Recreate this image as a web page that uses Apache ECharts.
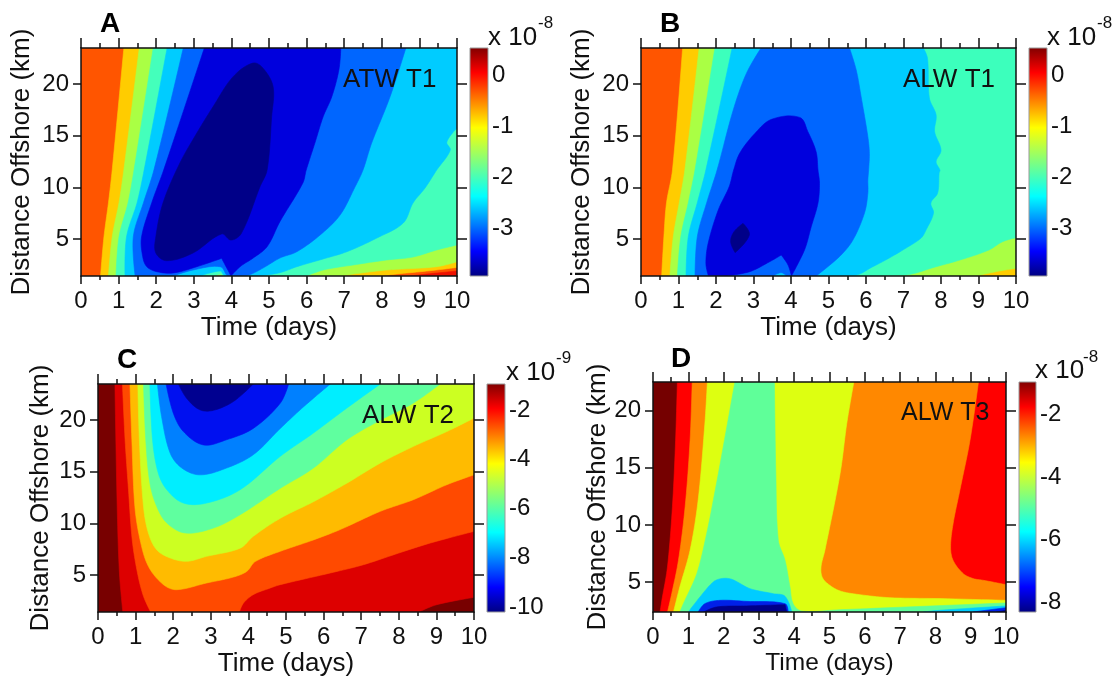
<!DOCTYPE html>
<html><head><meta charset="utf-8">
<style>html,body{margin:0;padding:0;background:#fff}#c{width:1120px;height:682px}</style>
<script src="https://cdn.jsdelivr.net/npm/echarts@6/dist/echarts.min.js"></script>
</head><body><div id="c"></div>
<script>
const timeTicks = [0,1,2,3,4,5,6,7,8,9,10];
const kmTicks = [5,10,15,20];

const A_colors = ['#FF5500','#FFCC00','#AAFF44','#44FFBB','#00CCFF','#0066FF','#0000DD','#000088','#EE1100'];
const A_contours = [
 [[0,1.42],[0,23.5],[10,23.5],[10,1.42]],
 [[1.14,23.5],[0.83,11.7],[0.73,8.5],[0.61,5.2],[0.52,1.42],[7.95,1.42],[8.4,1.61],[9.28,1.93],[10,2.25],[10,23.5]],
 [[1.55,23.5],[1.14,11.7],[1.01,8.5],[0.83,5.2],[0.73,1.42],[6.89,1.42],[7.24,1.61],[8.13,2.0],[9.46,2.32],[10,2.8],[10,23.5]],
 [[1.92,23.5],[1.41,11.7],[1.25,8.5],[1.01,5.2],[0.93,1.42],[3.55,1.42],[3.7,1.6],[3.78,1.42],[6.0,1.42],[6.44,2.0],[7.24,2.49],[8.13,2.97],[8.83,3.26],[9.46,3.94],[10,4.42],[10,23.5]],
 [[2.29,23.5],[1.68,11.7],[1.49,8.5],[1.21,5.2],[1.17,1.42],[3.17,1.42],[3.7,1.9],[3.8,1.49],[3.85,1.42],[4.76,1.42],[5.29,1.74],[5.74,2.32],[6.44,3.07],[7.07,3.77],[7.87,5.1],[8.57,6.55],[8.83,8.49],[9.15,9.94],[9.46,11.68],[9.82,13.6],[9.73,14.4],[10,15.75],[10,23.5]],
 [[2.72,23.5],[1.94,11.7],[1.66,8.5],[1.39,5.2],[1.44,1.42],[2.45,1.42],[2.98,2.0],[3.7,2.32],[3.88,1.49],[3.95,1.42],[4.44,1.5],[4.84,2.19],[5.29,3.16],[5.74,3.77],[6.36,5.39],[6.89,7.32],[7.29,10.06],[7.5,11.68],[7.73,14.29],[8.22,18.78],[8.64,23.5]],
 [[3.28,23.5],[2.2,11.7],[1.88,8.5],[1.61,5.2],[1.64,3.3],[1.75,2.32],[2.01,1.84],[2.45,1.71],[3.08,2.32],[3.74,3.13],[3.88,2.17],[3.99,1.42],[4.23,2.32],[4.58,3.16],[4.95,4.26],[5.29,6.68],[5.9,10.42],[5.99,11.68],[6.22,14.29],[6.44,16.84],[6.67,18.78],[6.86,21.4],[6.91,23.5]],
 [[4.57,22.04],[4.04,20.7],[3.51,17.8],[3.08,15.26],[2.63,12.36],[2.18,8.49],[1.99,5.22],[1.99,3.65],[2.28,2.9],[2.98,3.65],[3.74,5.49],[3.99,4.9],[4.27,5.58],[4.76,10.06],[4.95,11.68],[5.07,16.84],[5.11,19.74],[4.84,21.55]],
 [[8.75,1.42],[9.2,1.61],[10,1.9],[10,1.42]]
];

const B_colors = ['#FF5500','#FFCC00','#AAFF44','#3CFFBC','#00CCFF','#0066FF','#0000DD','#000088'];
const B_contours = [
 [[0,1.42],[0,23.5],[10,23.5],[10,1.42]],
 [[1.11,23.5],[0.84,11.7],[0.68,8.5],[0.61,5.2],[0.55,1.42],[10,1.42],[10,23.5]],
 [[1.55,23.5],[1.17,11.7],[1.02,8.5],[0.86,5.2],[0.77,1.42],[8.93,1.42],[9.55,1.9],[10,2.17],[10,23.5]],
 [[1.97,23.5],[1.44,11.7],[1.26,8.5],[1.06,5.2],[0.97,1.42],[6.98,1.49],[7.87,2.32],[8.57,3.04],[9.28,3.94],[9.64,4.74],[10,5.13],[10,23.5]],
 [[2.43,23.5],[1.73,11.7],[1.5,8.5],[1.26,5.2],[1.2,1.42],[5.69,1.49],[6.18,2.32],[6.62,3.16],[7.07,4.13],[7.47,5.1],[7.6,5.87],[7.8,7.52],[7.73,8.49],[7.91,9.45],[7.95,11.4],[7.97,11.68],[7.87,12.5],[8.0,13.6],[7.83,15.4],[7.87,17],[7.69,18.65],[7.64,22.5],[7.53,23.5]],
 [[3.2,23.5],[2.81,21.04],[2.46,17.5],[2.03,11.7],[1.75,8.5],[1.5,5.2],[1.44,1.42],[3.52,1.42],[3.74,1.74],[3.88,1.42],[4.67,1.42],[5.29,3.29],[5.65,4.9],[5.96,7.52],[6.05,9.45],[6.05,10.7],[6.07,11.68],[6.09,13.3],[6.05,14.9],[5.87,18.78],[5.74,21.36],[5.56,23.5]],
 [[3.48,16.59],[3.03,15.2],[2.63,13.3],[2.47,11.68],[2.35,10.06],[2.06,7.81],[1.79,4.58],[1.73,2.65],[1.79,1.5],[2.28,1.42],[2.9,1.84],[3.43,2.8],[3.74,3.45],[3.92,2.49],[4.01,1.42],[4.36,3.94],[4.54,6.2],[4.72,8.49],[4.76,10.4],[4.72,11.68],[4.67,13.45],[4.45,15.4],[4.23,16.78]],
 [[2.72,6.52],[2.89,5.39],[2.51,3.68],[2.39,4.74],[2.48,5.71]]
];

const C_colors = ['#780000','#DD0000','#FF4A00','#FFBB00','#CCFF22','#5FFF9F','#00EEFF','#0080FF','#0010F0','#000090'];
const C_contours = [
 [[0,1.42],[0,23.5],[10,23.5],[10,1.42]],
 [[0.45,23.5],[0.51,11.65],[0.57,5.2],[0.66,1.42],[8.53,1.42],[9.01,2.13],[10,2.84],[10,23.5]],
 [[0.65,23.5],[0.72,18.1],[0.81,13.3],[0.91,8.4],[1.05,5.2],[1.21,2.94],[1.4,1.42],[3.76,1.42],[3.87,2.29],[4.13,3.1],[4.58,3.74],[4.85,4.07],[6.18,5.2],[7.06,6.0],[8,7.13],[8.84,8.1],[10,9.23],[10,23.5]],
 [[0.85,23.5],[0.9,18.1],[0.98,11.65],[1.12,8.4],[1.34,5.84],[1.74,4.07],[2.09,3.58],[2.89,4.23],[3.6,4.8],[3.96,5.36],[4.18,6.3],[4.85,7.3],[5.73,8.4],[6.44,9.4],[7.51,11.17],[8.39,12.3],[9.28,13.75],[10,14.7],[10,23.5]],
 [[1.06,23.5],[1.1,18.1],[1.21,11.65],[1.34,9.07],[1.56,7.45],[1.92,6.65],[2.36,6.33],[2.89,6.81],[3.78,7.6],[4.13,8.75],[4.85,10.5],[5.73,12.1],[6.62,13.9],[7.51,15.85],[8.39,17.46],[9.28,18.9],[10,20.2],[10,23.5]],
 [[1.21,23.5],[1.27,18.1],[1.38,13.9],[1.56,11.65],[1.83,10.04],[2.32,9.07],[3.07,9.55],[3.78,10.84],[4.85,13.4],[5.73,15.36],[6.62,18.1],[7.51,20],[8.39,21.66],[9.1,23.5]],
 [[1.38,23.5],[1.45,18.1],[1.6,14.9],[1.83,13.26],[2.27,11.97],[2.89,11.97],[3.78,13.26],[4.85,16.5],[5.73,18.75],[6.62,21.17],[7.51,23.5]],
 [[1.58,23.5],[1.69,20.36],[1.92,16.8],[2.23,15.36],[2.71,14.7],[3.42,15.36],[4.13,16.65],[4.85,19.2],[5.47,21.3],[6.18,23.5]],
 [[1.81,23.5],[2.0,20.7],[2.27,18.9],[2.8,17.6],[3.42,18.1],[4.13,19.2],[4.85,21.65],[5.07,23.5]],
 [[2.14,23.5],[2.36,22.1],[2.71,21],[3.07,20.95],[3.6,21.8],[4.13,23.5]]
];

const D_colors = ['#750000','#FF0000','#FF8800','#DDFF11','#5FFF99','#00CCFF','#0020E8','#000088','#00CCFF','#0020E8','#000088'];
const D_contours = [
 [[0,2.4],[0,22.5],[10,22.5],[10,2.4]],
 [[0.69,22.5],[0.64,17.4],[0.55,11.6],[0.41,6.34],[0.25,3.42],[0.2,2.4],[10,2.4],[10,22.5]],
 [[1.11,22.5],[1.05,17.4],[0.91,11.6],[0.72,6.9],[0.53,4],[0.41,2.4],[10,2.4],[10,4.79],[9.36,5.17],[9.07,5.32],[8.79,5.75],[8.5,6.92],[8.43,8.09],[8.5,10.1],[8.69,13],[8.98,17.4],[9.22,22.5]],
 [[1.54,22.5],[1.47,18.9],[1.28,12.2],[1.05,7.8],[0.76,4.6],[0.58,2.4],[10,2.4],[10,3.42],[8.13,3.57],[6.71,3.65],[5.77,3.95],[5.3,4.24],[5.01,4.73],[4.8,5.4],[4.76,6.34],[4.87,7.8],[5.3,14.5],[5.49,18.9],[5.69,22.5]],
 [[2.32,22.5],[1.99,16.84],[1.76,13],[1.52,9.25],[1.24,5.75],[0.86,3.13],[0.76,2.4],[10,2.4],[10,3.19],[7.19,2.84],[5.3,2.6],[4.21,2.49],[3.97,3.13],[3.88,4.59],[3.74,6.92],[3.55,8.67],[3.48,14.5],[3.44,22.5]],
 [[1.0,2.4],[1.33,3.71],[1.71,5.03],[1.94,5.32],[2.23,5.26],[2.75,4.44],[3.41,4],[3.74,3.77],[3.93,2.4]],
 [[1.28,2.4],[1.47,3.13],[1.9,3.42],[2.65,3.33],[3.74,3.13],[3.83,2.4]],
 [[1.43,2.4],[1.8,2.84],[2.65,2.93],[3.74,3.04],[3.79,2.4]],
 [[7.66,2.4],[8.13,2.55],[10,2.93],[10,2.4]],
 [[9.07,2.4],[10,2.78],[10,2.4]],
 [[9.73,2.4],[10,2.55],[10,2.4]]
];

const jetStops = [[0,'#000080'],[0.11,'#0000FF'],[0.35,'#00FFFF'],[0.5,'#7FFF7F'],[0.65,'#FFFF00'],[0.89,'#FF0000'],[1,'#800000']];

const panels = [
 {contours:A_contours,colors:A_colors,left:81,top:48,width:376,height:228,yMin:1.42,yMax:23.5,nameGapY:46,
  cb:{left:470,width:18,top:48,height:228,min:-3.92,max:0.53,ticks:[0,-1,-2,-3]}},
 {contours:B_contours,colors:B_colors,left:641,top:48,width:375,height:228,yMin:1.42,yMax:23.5,nameGapY:46,
  cb:{left:1029,width:18,top:48,height:228,min:-3.92,max:0.53,ticks:[0,-1,-2,-3]}},
 {contours:C_contours,colors:C_colors,left:98,top:384,width:376,height:228,yMin:1.42,yMax:23.5,nameGapY:44,
  cb:{left:487,width:18,top:384,height:228,min:-10.2,max:-0.95,ticks:[-2,-4,-6,-8,-10]}},
 {contours:D_contours,colors:D_colors,left:653,top:382,width:353,height:230,yMin:2.4,yMax:22.5,nameGapY:42,xName:24.5,
  cb:{left:1019,width:17,top:382,height:230,min:-8.3,max:-0.98,ticks:[-2,-4,-6,-8]}}
];

const FONT = '"Liberation Sans", Arial, sans-serif';
const INK = '#111';
const lineStyle = {color:'#111',width:1.5};
const grid=[], xAxis=[], yAxis=[], series=[];

/* Draws a contour as a smooth curve through its vertices; vertices on the frame and sharp turns stay corners. */
function curveThrough(pts, onFrame){
  const n = pts.length, out = [];
  const corner = pts.map(function(p,i){
    if (onFrame[i]) return true;
    const a = pts[(i-1+n)%n], b = pts[(i+1)%n];
    const ux=p[0]-a[0], uy=p[1]-a[1], vx=b[0]-p[0], vy=b[1]-p[1];
    const c = (ux*vx+uy*vy)/(Math.hypot(ux,uy)*Math.hypot(vx,vy)||1);
    return c < 0.3;
  });
  const dir = pts.map(function(p,i){
    if (corner[i]) return [0,0];
    const a = pts[(i-1+n)%n], b = pts[(i+1)%n];
    const l = Math.hypot(b[0]-a[0],b[1]-a[1])||1;
    return [(b[0]-a[0])/l,(b[1]-a[1])/l];
  });
  for (let i=0;i<n;i++){
    const j=(i+1)%n, p=pts[i], q=pts[j];
    const len=Math.hypot(q[0]-p[0],q[1]-p[1]);
    out.push(p);
    if (corner[i]&&corner[j]) continue;
    const c1=[p[0]+dir[i][0]*len/3,p[1]+dir[i][1]*len/3], c2=[q[0]-dir[j][0]*len/3,q[1]-dir[j][1]*len/3];
    for (let k=1;k<10;k++){
      const t=k/10,m=1-t;
      out.push([m*m*m*p[0]+3*m*m*t*c1[0]+3*m*t*t*c2[0]+t*t*t*q[0],
                m*m*m*p[1]+3*m*m*t*c1[1]+3*m*t*t*c2[1]+t*t*t*q[1]]);
    }
  }
  return out;
}

panels.forEach(function(p){
  const g = grid.length;
  grid.push({left:p.left,top:p.top,width:p.width,height:p.height});
  const xi = xAxis.length, yi = yAxis.length;
  xAxis.push({gridIndex:g,type:'value',position:'bottom',min:0,max:10,interval:1,z:10,
    name:'Time (days)',nameLocation:'middle',nameGap:39,nameTextStyle:{fontFamily:FONT,fontSize:p.xName||26,color:INK},
    axisLine:{show:true,onZero:false,lineStyle},axisTick:{show:true,length:8,lineStyle},
    minorTick:{show:true,splitNumber:2,length:4,lineStyle},
    axisLabel:{show:true,margin:13,fontFamily:FONT,fontSize:24,color:INK,formatter:function(v){return String(v);}},splitLine:{show:false}});
  xAxis.push({gridIndex:g,type:'value',position:'top',min:0,max:10,interval:1,z:10,
    axisLine:{show:true,onZero:false,lineStyle},axisTick:{show:true,length:10,lineStyle},
    minorTick:{show:true,splitNumber:2,length:5,lineStyle},axisLabel:{show:false},splitLine:{show:false}});
  yAxis.push({gridIndex:g,type:'value',position:'left',min:p.yMin,max:p.yMax,z:10,
    name:'Distance Offshore (km)',nameLocation:'middle',nameGap:p.nameGapY,nameRotate:90,nameTextStyle:{fontFamily:FONT,fontSize:26,color:INK},
    axisLine:{show:true,onZero:false,lineStyle},axisTick:{show:true,length:8,lineStyle,customValues:kmTicks},
    axisLabel:{show:true,margin:12,fontFamily:FONT,fontSize:24,color:INK,customValues:kmTicks},splitLine:{show:false}});
  yAxis.push({gridIndex:g,type:'value',position:'right',min:p.yMin,max:p.yMax,z:10,
    axisLine:{show:true,onZero:false,lineStyle},axisTick:{show:true,length:10,lineStyle,customValues:kmTicks},
    axisLabel:{show:false},splitLine:{show:false}});
  series.push({type:'custom',coordinateSystem:'cartesian2d',xAxisIndex:xi,yAxisIndex:yi,clip:true,silent:true,z:2,
    data:p.contours.map(function(_,i){return [i];}),
    encode:{x:0},
    renderItem:function(params,api){
      const i = params.dataIndex, raw = p.contours[i];
      const pts = raw.map(function(v){return api.coord(v);});
      const frame = raw.map(function(v){return v[0]===0||v[0]===10||v[1]===p.yMin||v[1]===p.yMax;});
      return {type:'polygon',shape:{points:curveThrough(pts,frame)},style:{fill:p.colors[i],stroke:p.colors[i],lineWidth:0.6}};
    }});
});

panels.forEach(function(p){
  const c = p.cb, g = grid.length;
  grid.push({left:c.left,top:c.top,width:c.width,height:c.height});
  const xi = xAxis.length, yi = yAxis.length;
  xAxis.push({gridIndex:g,type:'value',min:0,max:1,show:false});
  yAxis.push({gridIndex:g,type:'value',position:'right',min:c.min,max:c.max,z:10,
    axisLine:{show:false},axisTick:{show:false,customValues:c.ticks},splitLine:{show:false},
    axisLabel:{show:true,margin:4,fontFamily:FONT,fontSize:24,color:INK,customValues:c.ticks,formatter:function(v){return String(v);}}});
  series.push({type:'custom',coordinateSystem:'cartesian2d',xAxisIndex:xi,yAxisIndex:yi,silent:true,z:2,
    data:[[0,c.min,1,c.max]],encode:{x:[0,2],y:[1,3]},
    renderItem:function(params,api){
      const a = api.coord([api.value(0),api.value(1)]), b = api.coord([api.value(2),api.value(3)]);
      return {type:'rect',shape:{x:a[0],y:b[1],width:b[0]-a[0],height:a[1]-b[1]},
        style:{fill:new echarts.graphic.LinearGradient(0,1,0,0,jetStops.map(function(s){return {offset:s[0],color:s[1]};})),stroke:'#999',lineWidth:1}};
    }});
});

function txt(x,y,t,size,extra){
  return {type:'text',left:x,top:y,silent:true,z:20,style:Object.assign({text:t,fontFamily:FONT,fontSize:size,fill:INK},extra||{})};
}
const graphics = [
 txt(100,10,'A',28,{fontWeight:'bold',fill:'#000'}), txt(660,10,'B',28,{fontWeight:'bold',fill:'#000'}),
 txt(117,346,'C',28,{fontWeight:'bold',fill:'#000'}), txt(671,345,'D',28,{fontWeight:'bold',fill:'#000'}),
 txt(343,67,'ATW T1',26), txt(903,67,'ALW T1',26), txt(362,403,'ALW T2',26), txt(901,401,'ALW T3',25),
 txt(488,25,'x 10',26), txt(538,15,'-8',17),
 txt(1047,25,'x 10',26), txt(1097,15,'-8',17),
 txt(506,360,'x 10',26), txt(556,350,'-9',17),
 txt(1035,358,'x 10',26), txt(1083,349,'-8',17)
];

const chart = echarts.init(document.getElementById('c'),null,{renderer:'canvas'});
chart.setOption({animation:false,backgroundColor:'#fff',grid,xAxis,yAxis,series,graphic:graphics});
</script></body></html>
